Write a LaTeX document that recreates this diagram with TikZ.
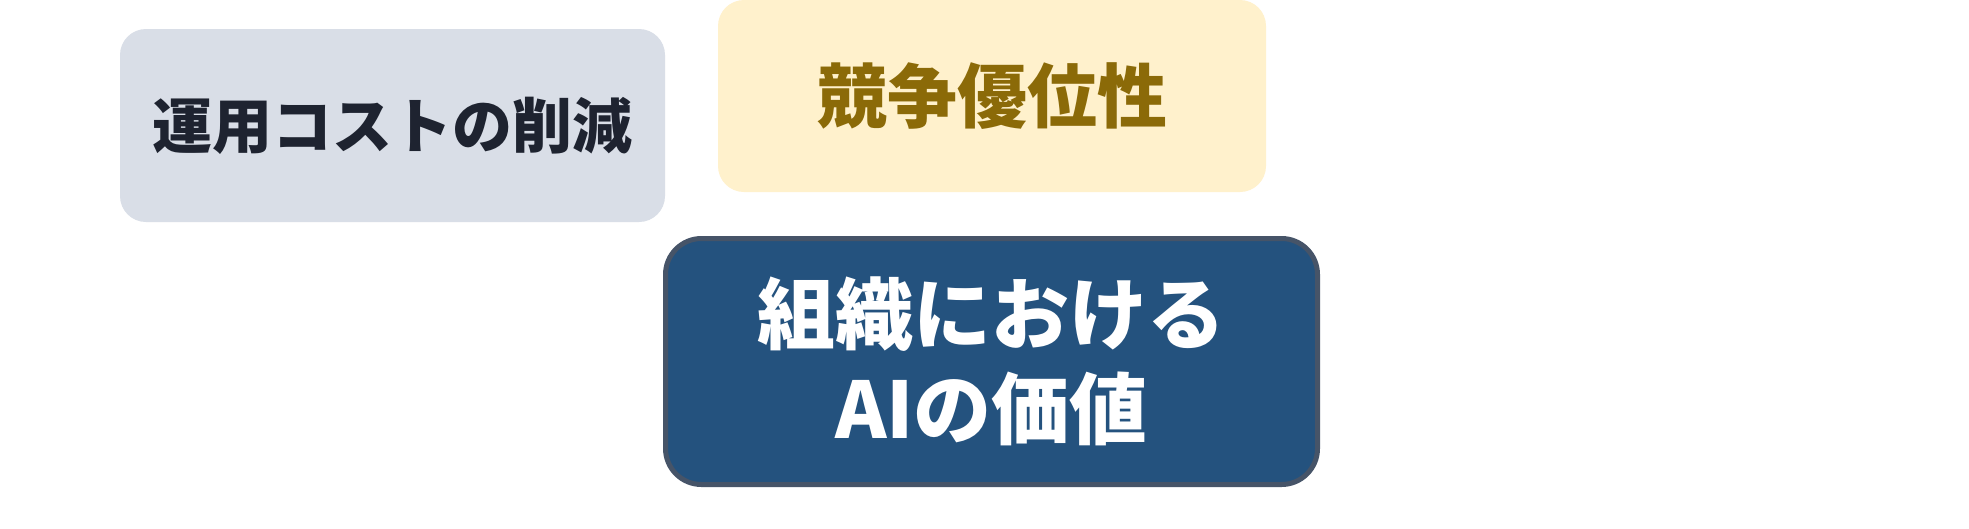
\documentclass[tikz,border=0pt]{standalone}
\usepackage{fontspec}
\newfontfamily\jpfont{Noto Sans CJK JP}
\definecolor{costfill}{HTML}{D9DEE7}
\definecolor{costtext}{HTML}{1E2330}
\definecolor{edgefill}{HTML}{FFF1CC}
\definecolor{edgetext}{HTML}{8B6A08}
\definecolor{valuefill}{HTML}{24527E}
\definecolor{valueline}{HTML}{465468}

\begin{document}
\begin{tikzpicture}[x=1pt, y=-1pt,
    box/.style={rounded corners=26pt, inner sep=0pt, align=center}]
      \useasboundingbox[fill=white] (0, 0) rectangle (1969, 528);
      \node[box, fill=costfill, text=costtext, minimum width=545pt, minimum height=193pt,
        font=\jpfont\bfseries\fontsize{60}{64}\selectfont] (cost) at (392.5, 125.5) {運用コストの削減};
      \node[box, fill=edgefill, text=edgetext, minimum width=548pt, minimum height=192pt,
        font=\jpfont\bfseries\fontsize{70}{74}\selectfont] (edge) at (992, 96) {競争優位性};
      \node[box, fill=valuefill, draw=valueline, line width=5pt, rounded corners=36pt,
        text=white, minimum width=652pt, minimum height=246pt,
        font=\jpfont\bfseries\fontsize{78}{95}\selectfont] (value) at (991.5, 361.5) {組織における\\AIの価値};
    \end{tikzpicture}
\end{document}
